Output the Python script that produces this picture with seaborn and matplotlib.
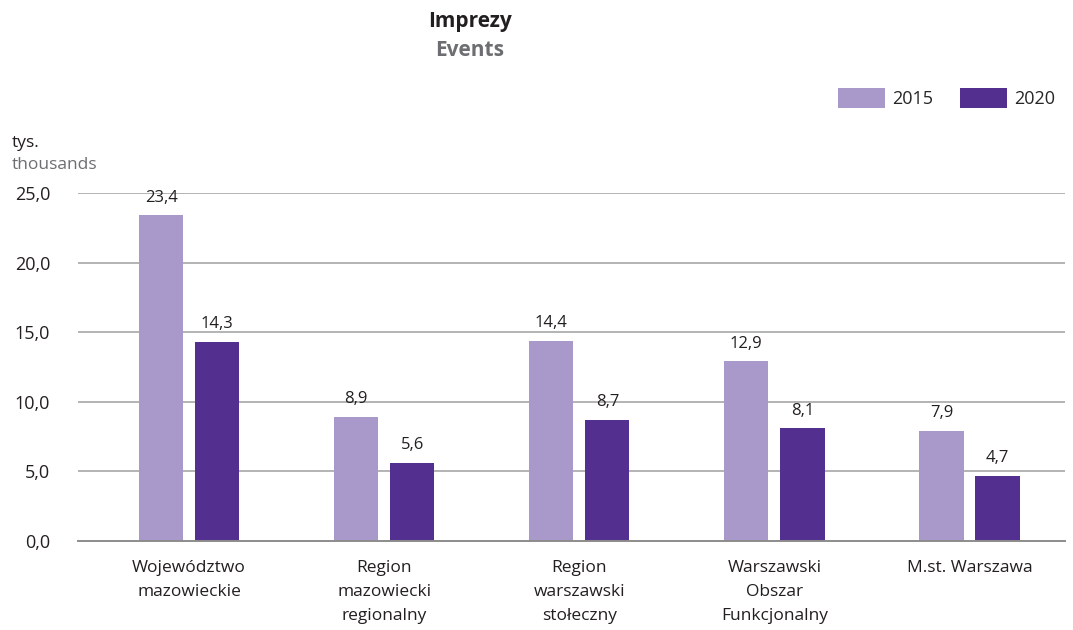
import matplotlib
matplotlib.use("Agg")
import matplotlib.pyplot as plt
import seaborn as sns
import pandas as pd

categories = [
    "Województwo\nmazowieckie",
    "Region\nmazowiecki\nregionalny",
    "Region\nwarszawski\nstołeczny",
    "Warszawski\nObszar\nFunkcjonalny",
    "M.st. Warszawa",
]
years = ["2015", "2020"]
values_2015 = [23.4, 8.9, 14.4, 12.9, 7.9]
values_2020 = [14.3, 5.6, 8.7, 8.1, 4.7]
y_ticks = [0, 5, 10, 15, 20, 25]

colors = {"2015": "#A998CA", "2020": "#53308F"}

df = pd.DataFrame({
    "region": categories * 2,
    "year": [years[0]] * len(categories) + [years[1]] * len(categories),
    "value": values_2015 + values_2020,
})

sns.set_theme(style="white")
plt.rcParams["font.family"] = ["Open Sans", "DejaVu Sans"]

fig = plt.figure(figsize=(10.73, 6.30), dpi=100)
ax = fig.add_axes([78 / 1073, 89 / 630, (1065 - 78) / 1073, (541 - 193) / 630])

sns.barplot(data=df, x="region", y="value", hue="year", order=categories,
            hue_order=years, palette=colors, width=0.575, gap=0.21,
            saturation=1, linewidth=0, ax=ax, legend=True, zorder=3)

ax.set_ylim(0, 25)
ax.set_xlim(-0.57, 4.49)
ax.set_yticks(y_ticks)
ax.set_yticklabels([f"{t:.1f}".replace(".", ",") for t in y_ticks],
                   fontsize=13, color="#231F20")
ax.tick_params(axis="y", length=0, pad=20)
ax.tick_params(axis="x", length=0, pad=14, labelsize=12.5, labelcolor="#231F20")
for lbl in ax.get_xticklabels():
    lbl.set_linespacing(1.65)
ax.set_xlabel("")
ax.set_ylabel("")

for t in y_ticks[1:]:
    ax.axhline(t, color="#B3B3B3", lw=1.4, zorder=1)
for side in ["top", "right", "left"]:
    ax.spines[side].set_visible(False)
ax.spines["bottom"].set_color("#8C8C8C")
ax.spines["bottom"].set_linewidth(1.4)
ax.spines["bottom"].set_zorder(4)

for container in ax.containers:
    ax.bar_label(container, labels=[f"{v:.1f}".replace(".", ",") for v in container.datavalues],
                 padding=7, fontsize=12, color="#231F20")

handles, labels = ax.get_legend_handles_labels()
ax.legend(handles, labels, loc="center right", bbox_to_anchor=(1068 / 1073, 1 - 98 / 630),
          bbox_transform=fig.transFigure, ncol=2, frameon=False, fontsize=13,
          handlelength=2.6, handleheight=1.3, handletextpad=0.4, columnspacing=1.5,
          borderpad=0.2)

fig.text(470 / 1073, 1 - 22 / 630, "Imprezy", ha="center", va="center",
         fontsize=15, fontweight="bold", color="#231F20")
fig.text(470 / 1073, 1 - 50 / 630, "Events", ha="center", va="center",
         fontsize=15, fontweight="bold", color="#6D6E71")
fig.text(12 / 1073, 1 - 143 / 630, "tys.", ha="left", va="center",
         fontsize=12.5, color="#231F20")
fig.text(12 / 1073, 1 - 165 / 630, "thousands", ha="left", va="center",
         fontsize=12.5, color="#6D6E71")

fig.savefig("out.png", dpi=100)
